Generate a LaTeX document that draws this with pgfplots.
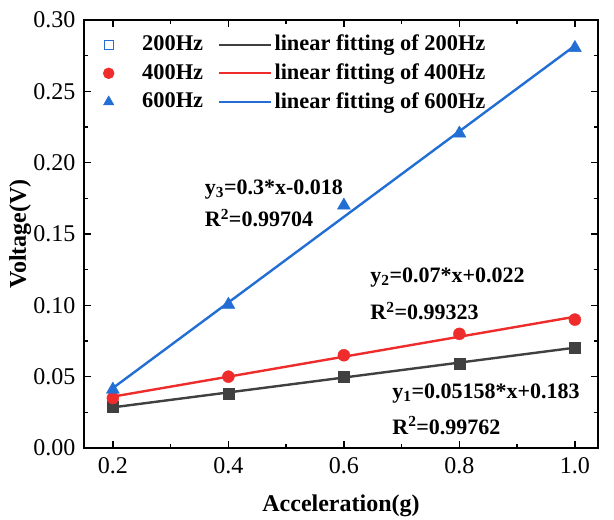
\documentclass[border=0pt]{standalone}
\usepackage{fontspec}
\setmainfont{Liberation Serif}
\usepackage{pgfplots}
\pgfplotsset{compat=1.18}
\definecolor{cgrey}{RGB}{64,64,64}
\definecolor{cred}{RGB}{238,44,44}
\definecolor{cblue}{RGB}{34,110,212}
\begin{document}
\fontsize{22bp}{26bp}\selectfont
\begin{tikzpicture}
\useasboundingbox (-84bp,-72bp) rectangle (530bp,448bp);
\begin{axis}[
  at={(0,0)}, anchor=south west,
  scale only axis, width=514bp, height=428bp,
  xmin=0.15, xmax=1.04, ymin=0, ymax=0.30,
  xtick={0.2,0.4,0.6,0.8,1.0},
  ytick={0,0.05,0.10,0.15,0.20,0.25,0.30},
  minor x tick num=1, minor y tick num=1,
  tick align=inside,
  major tick length=7bp, minor tick length=4bp,
  every tick/.style={black, line width=1.3bp},
  axis line style={line width=1.6bp},
  tick label style={font=\fontsize{24bp}{28bp}\selectfont},
  /pgf/number format/assume math mode=true,
  x tick label style={/pgf/number format/fixed, /pgf/number format/fixed zerofill, /pgf/number format/precision=1, yshift=-2bp},
  y tick label style={/pgf/number format/fixed, /pgf/number format/fixed zerofill, /pgf/number format/precision=2, xshift=-1bp},
  scaled ticks=false,
  xlabel={\bfseries Acceleration(g)},
  ylabel={\bfseries Voltage(V)},
  label style={font=\fontsize{24bp}{28bp}\selectfont},
  xlabel style={at={(axis description cs:0.5,-0.1355)}, anchor=center},
  ylabel style={at={(axis description cs:-0.124,0.5)}, anchor=center},
  legend columns=2,
  legend style={at={(axis description cs:0.0,1.0)}, anchor=north west,
    draw=none, fill=none, font=\bfseries\fontsize{22.4bp}{27bp}\selectfont,
    row sep=5.5bp, inner xsep=19bp, inner ysep=13bp,
    /tikz/column 1/.style={column sep=26bp},
    /tikz/column 2/.style={column sep=13bp}},
  clip=false,
]
% legend entries
\addlegendimage{only marks, mark=square, mark size=4.5bp, mark options={draw=cblue, fill=white, line width=1.1bp}}
\addlegendentry{200Hz}
\addlegendimage{legend image code/.code={\draw[cgrey, line width=2.4bp] (0bp,0bp) -- (52bp,0bp);}}
\addlegendentry{linear fitting of 200Hz}
\addlegendimage{only marks, mark=*, mark size=5.5bp, mark options={draw=cred, fill=cred}}
\addlegendentry{400Hz}
\addlegendimage{legend image code/.code={\draw[cred, line width=2.4bp] (0bp,0bp) -- (52bp,0bp);}}
\addlegendentry{linear fitting of 400Hz}
\addlegendimage{only marks, mark=triangle*, mark size=6bp, mark options={draw=cblue, fill=cblue}}
\addlegendentry{600Hz}
\addlegendimage{legend image code/.code={\draw[cblue, line width=2.4bp] (0bp,0bp) -- (52bp,0bp);}}
\addlegendentry{linear fitting of 600Hz}
% fits
\addplot[forget plot, cgrey, line width=2.4bp] coordinates {(0.2,0.0285) (1.0,0.0703)};
\addplot[forget plot, cred, line width=2.4bp] coordinates {(0.2,0.036) (1.0,0.092)};
\addplot[forget plot, cblue, line width=2.4bp] coordinates {(0.2,0.042) (1.0,0.282)};
% data
\addplot[forget plot, only marks, mark=square*, mark size=5.5bp, mark options={draw=cgrey, fill=cgrey}]
  coordinates {(0.2,0.0286) (0.4,0.0384) (0.6,0.0502) (0.8,0.0593) (1.0,0.0700)};
\addplot[forget plot, only marks, mark=*, mark size=6bp, mark options={draw=cred, fill=cred}]
  coordinates {(0.2,0.035) (0.4,0.050) (0.6,0.065) (0.8,0.080) (1.0,0.090)};
\addplot[forget plot, only marks, mark=triangle*, mark size=7.5bp, mark options={draw=cblue, fill=cblue}]
  coordinates {(0.2,0.041) (0.4,0.1005) (0.6,0.170) (0.8,0.2205) (1.0,0.2805)};
% annotations
\node[anchor=west, font=\bfseries\fontsize{22bp}{26bp}\selectfont, inner sep=0pt] at (axis cs:0.359,0.181) {y$_\mathbf{3}$=0.3*x-0.018};
\node[anchor=west, font=\bfseries\fontsize{22bp}{26bp}\selectfont, inner sep=0pt] at (axis cs:0.359,0.161) {R$^\mathbf{2}$=0.99704};
\node[anchor=west, font=\bfseries\fontsize{22bp}{26bp}\selectfont, inner sep=0pt] at (axis cs:0.6456,0.1195) {y$_\mathbf{2}$=0.07*x+0.022};
\node[anchor=west, font=\bfseries\fontsize{22bp}{26bp}\selectfont, inner sep=0pt] at (axis cs:0.6456,0.096) {R$^\mathbf{2}$=0.99323};
\node[anchor=west, font=\bfseries\fontsize{22bp}{26bp}\selectfont, inner sep=0pt] at (axis cs:0.6836,0.0385) {y$_\mathbf{1}$=0.05158*x+0.183};
\node[anchor=west, font=\bfseries\fontsize{22bp}{26bp}\selectfont, inner sep=0pt] at (axis cs:0.6836,0.0158) {R$^\mathbf{2}$=0.99762};
\end{axis}
\end{tikzpicture}
\end{document}
